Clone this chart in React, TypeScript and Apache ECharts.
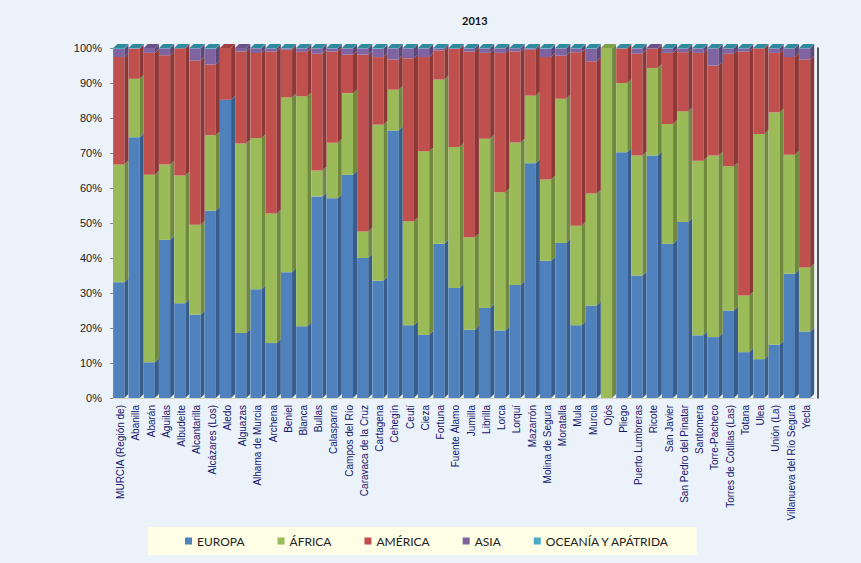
import React, { useEffect, useRef } from 'react';
import * as echarts from 'echarts';

const categories = [
  'MURCIA (Región de)', 'Abanilla', 'Abarán', 'Águilas', 'Albudeite', 'Alcantarilla',
  'Alcázares (Los)', 'Aledo', 'Alguazas', 'Alhama de Murcia', 'Archena', 'Beniel',
  'Blanca', 'Bullas', 'Calasparra', 'Campos del Río', 'Caravaca de la Cruz', 'Cartagena',
  'Cehegín', 'Ceutí', 'Cieza', 'Fortuna', 'Fuente Álamo', 'Jumilla', 'Librilla', 'Lorca',
  'Lorquí', 'Mazarrón', 'Molina de Segura', 'Moratalla', 'Mula', 'Murcia', 'Ojós',
  'Pliego', 'Puerto Lumbreras', 'Ricote', 'San Javier', 'San Pedro del Pinatar',
  'Santomera', 'Torre-Pacheco', 'Torres de Cotillas (Las)', 'Totana', 'Ulea',
  'Unión (La)', 'Villanueva del Río Segura', 'Yecla'
];

const europa = [
  33.1, 74.5, 10.2, 45.2, 27.1, 23.8, 53.5, 85.2, 18.6, 31.1, 15.7, 35.9, 20.5, 57.6, 57.1,
  63.8, 40.0, 33.5, 76.4, 20.8, 18.1, 44.1, 31.4, 19.5, 25.7, 19.3, 32.3, 67.1, 39.2, 44.3,
  20.8, 26.4, 0, 70.2, 35.0, 69.3, 44.1, 50.3, 17.9, 17.4, 25.0, 13.1, 11.1, 15.2, 35.5, 19.0
];
const africa = [
  33.6, 16.7, 53.6, 21.5, 36.5, 25.7, 21.6, 0, 54.1, 43.2, 37.0, 50.0, 65.7, 7.4, 15.8,
  23.3, 7.6, 44.6, 11.7, 29.7, 52.4, 46.9, 40.3, 26.4, 48.4, 39.5, 40.7, 19.3, 23.2, 41.2,
  28.4, 32.0, 100, 19.8, 34.3, 25.0, 34.2, 31.6, 49.9, 51.9, 41.2, 16.2, 64.3, 66.4, 34.0, 18.3
];
const america = [
  30.7, 8.6, 34.8, 31.2, 36.3, 46.9, 20.2, 14.8, 26.3, 24.3, 46.3, 13.6, 12.7, 33.4, 26.1,
  11.0, 50.5, 19.3, 8.6, 46.6, 26.9, 8.3, 28.0, 53.1, 24.5, 39.8, 26.0, 13.1, 35.0, 12.3,
  49.6, 37.8, 0, 9.9, 29.1, 5.5, 20.3, 16.9, 30.8, 25.7, 32.2, 69.7, 24.5, 17.0, 27.9, 59.4
];
const asia = [
  2.3, 0.1, 1.4, 2.0, 0, 3.5, 4.5, 0, 1.0, 1.3, 0.9, 0.4, 1.0, 1.5, 0.9,
  1.8, 1.8, 2.4, 3.2, 2.8, 2.5, 0.6, 0.2, 0.9, 1.3, 1.3, 0.9, 0.4, 2.4, 2.1,
  1.1, 3.6, 0, 0, 1.5, 0.2, 1.3, 1.1, 1.3, 4.9, 1.5, 0.9, 0, 1.3, 2.5, 3.2
];
const oceania = [
  0.3, 0.1, 0, 0.1, 0.1, 0.1, 0.2, 0, 0, 0.1, 0.1, 0.1, 0.1, 0.1, 0.1,
  0.1, 0.1, 0.2, 0.1, 0.1, 0.1, 0.1, 0.1, 0.1, 0.1, 0.1, 0.1, 0.1, 0.2, 0.1,
  0.1, 0.2, 0, 0.1, 0.1, 0, 0.1, 0.1, 0.1, 0.1, 0.1, 0.1, 0.1, 0.1, 0.1, 0.1
];

const seriesNames = ['EUROPA', 'ÁFRICA', 'AMÉRICA', 'ASIA', 'OCEANÍA Y APÁTRIDA'];
const seriesValues = [europa, africa, america, asia, oceania];
const frontColors = ['#4F81BD', '#9BBB59', '#C0504D', '#8064A2', '#4BACC6'];
const sideColors = ['#385D8A', '#71893F', '#8C3836', '#5C4776', '#31859C'];
const topColors = ['#3F6A9E', '#80A048', '#A0403D', '#6A5288', '#2F8A9C'];

export default function App() {
  const ref = useRef<HTMLDivElement>(null);

  useEffect(() => {
    if (!ref.current) return;
    const chart = echarts.init(ref.current, null, { renderer: 'svg' });

    // topmost non-empty segment of each bar gets the 3D lid
    const lastSeries = categories.map((_, i) => {
      let last = 0;
      seriesValues.forEach((vals, s) => {
        if (vals[i] > 0) last = s;
      });
      return last;
    });

    const base = categories.map(() => 0);
    const series = seriesValues.map((vals, s) => {
      const data = vals.map((v, i) => {
        const start = base[i];
        base[i] += v;
        return [i, start, base[i], lastSeries[i] === s ? 1 : 0];
      });
      return {
        name: seriesNames[s],
        type: 'custom',
        itemStyle: { color: frontColors[s] },
        encode: { x: 0, y: [1, 2] },
        data,
        renderItem: (params: any, api: any) => {
          const i = api.value(0);
          const y0 = api.value(1);
          const y1 = api.value(2);
          const isTop = api.value(3) === 1;
          if (y1 - y0 <= 0) return null;
          const pb = api.coord([i, y0]);
          const pt = api.coord([i, y1]);
          const band = api.size([1, 0])[0];
          const d = 4;
          const xL = pb[0] - band / 2 + 0.3;
          const xR = xL + band * 0.73;
          const children: any[] = [
            {
              type: 'rect',
              shape: { x: xL, y: pt[1], width: xR - xL, height: pb[1] - pt[1] },
              style: { fill: frontColors[s] }
            },
            {
              type: 'polygon',
              shape: {
                points: [[xR, pb[1]], [xR + d, pb[1] - d], [xR + d, pt[1] - d], [xR, pt[1]]]
              },
              style: { fill: sideColors[s] }
            }
          ];
          if (isTop) {
            children.push({
              type: 'polygon',
              shape: {
                points: [[xL, pt[1]], [xL + d, pt[1] - d], [xR + d, pt[1] - d], [xR, pt[1]]]
              },
              style: { fill: topColors[s] }
            });
          }
          return { type: 'group', children };
        }
      };
    });

    chart.setOption({
      animation: false,
      backgroundColor: '#EBF2FA',
      title: {
        text: '2013',
        left: 457,
        top: 10,
        textStyle: { fontFamily: 'Lato', fontSize: 11, fontWeight: 'bold', color: '#111' }
      },
      legend: {
        data: seriesNames,
        left: 148,
        top: 527,
        padding: [8, 27, 8, 37],
        itemWidth: 7,
        itemHeight: 7,
        itemGap: 33,
        icon: 'rect',
        backgroundColor: '#FEFEE6',
        textStyle: { fontFamily: 'Lato', fontSize: 12, color: '#222' }
      },
      grid: { left: 113, right: 47, top: 48, bottom: 165 },
      xAxis: {
        type: 'category',
        data: categories,
        axisLine: { show: true, lineStyle: { color: '#D2D2C8', width: 1 } },
        axisTick: { show: false },
        axisLabel: {
          rotate: 90,
          interval: 0,
          margin: 7,
          fontFamily: 'Liberation Sans',
          fontSize: 10,
          color: '#16166A'
        }
      },
      yAxis: [
        {
          type: 'value',
          min: 0,
          max: 100,
          interval: 10,
          axisLine: { show: true, lineStyle: { color: '#A3A396' } },
          axisTick: { show: true, length: 3, lineStyle: { color: '#888' } },
          splitLine: { show: false },
          axisLabel: {
            formatter: '{value}%',
            margin: 11,
            fontFamily: 'Liberation Sans',
            fontSize: 11,
            color: '#222'
          }
        },
        {
          type: 'value',
          position: 'right',
          offset: 4,
          min: 0,
          max: 100,
          interval: 10,
          axisLine: { show: true, lineStyle: { color: '#222', width: 1.5 } },
          axisTick: { show: false },
          axisLabel: { show: false },
          splitLine: { show: false }
        }
      ],
      series
    });

    return () => {
      chart.dispose();
    };
  }, []);

  return (
    <div
      ref={ref}
      style={{ position: 'absolute', left: 0, top: 0, width: 861, height: 563 }}
    />
  );
}
